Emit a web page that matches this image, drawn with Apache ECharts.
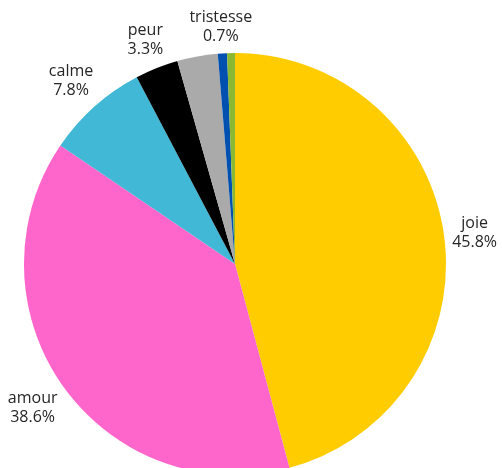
<!DOCTYPE html>
<html>
<head>
<meta charset="utf-8">
<script src="https://cdn.jsdelivr.net/npm/echarts@6/dist/echarts.min.js"></script>
<style>
html,body{margin:0;padding:0;background:#fff;}
#chart{width:502px;height:468px;}
</style>
</head>
<body>
<div id="chart"></div>
<script>
const categories = ['joie', 'amour', 'calme', 'peur', 'colère', 'tristesse', 'surprise'];
const values = [45.8, 38.6, 7.8, 3.3, 3.1, 0.7, 0.6];
const colors = ['#ffcc00', '#ff66cc', '#40b8d6', '#000000', '#aaaaaa', '#0050b0', '#8ab833'];
const showLabel = [true, true, true, true, false, true, false];

const CX = 235, CY = 264, R = 211, GAP = 6;
const total = values.reduce((a, b) => a + b, 0);
function midAngle(i) {
  let s = 0;
  for (let k = 0; k < i; k++) s += values[k];
  return (s + values[i] / 2) / total * 2 * Math.PI;
}

const chart = echarts.init(document.getElementById('chart'), null, {renderer: 'canvas'});
chart.setOption({
  animation: false,
  backgroundColor: '#ffffff',
  series: [{
    type: 'pie',
    center: [CX, CY],
    radius: R,
    startAngle: 90,
    clockwise: true,
    avoidLabelOverlap: false,
    itemStyle: {borderWidth: 0},
    label: {
      show: true,
      position: 'outside',
      formatter: p => p.name + '\n' + p.value.toFixed(1) + '%',
      fontFamily: '"Open Sans", "Noto Sans", sans-serif',
      fontSize: 16,
      lineHeight: 19,
      color: '#262626',
      align: 'center'
    },
    labelLine: {show: false},
    labelLayout: function (p) {
      const a = midAngle(p.dataIndex);
      const sx = Math.sin(a), sy = -Math.cos(a);
      const hw = p.labelRect.width / 2, hh = p.labelRect.height / 2;
      const rc = R + GAP + hw * Math.abs(sx) + hh * Math.abs(sy);
      return {x: CX + rc * sx, y: CY + rc * sy, align: 'center', verticalAlign: 'middle'};
    },
    emphasis: {disabled: true},
    data: categories.map((c, i) => ({
      name: c,
      value: values[i],
      itemStyle: {color: colors[i]},
      label: {show: showLabel[i]}
    }))
  }]
});
</script>
</body>
</html>
